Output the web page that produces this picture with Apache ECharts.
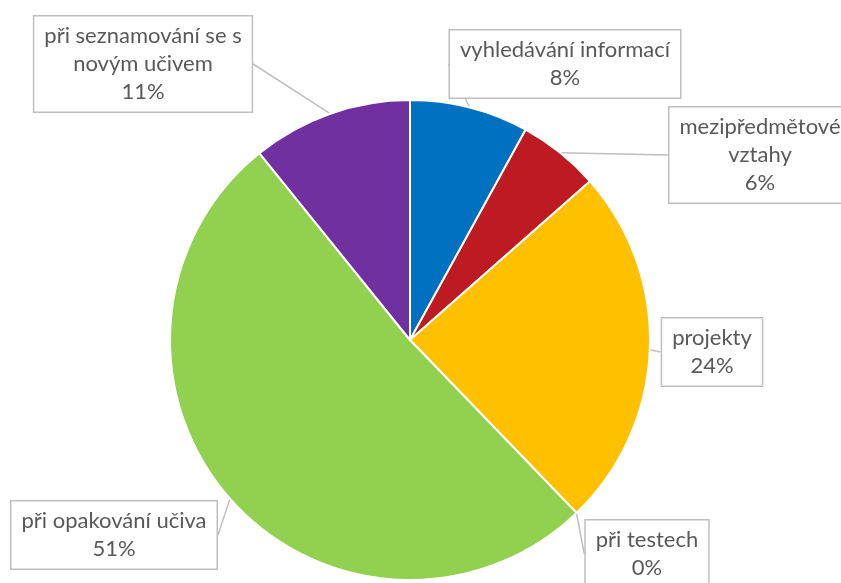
<!DOCTYPE html>
<html>
<head>
<meta charset="utf-8">
<script src="https://cdn.jsdelivr.net/npm/echarts@6/dist/echarts.min.js"></script>
<style>html,body{margin:0;padding:0;background:#fff}#c{width:841px;height:583px}</style>
</head>
<body>
<div id="c"></div>
<script>
var categories = ['vyhledávání informací', 'mezipředmětové vztahy', 'projekty', 'při testech', 'při opakování učiva', 'při seznamování se s novým učivem'];
var labelTexts = ['vyhledávání informací', 'mezipředmětové\nvztahy', 'projekty', 'při testech', 'při opakování učiva', 'při seznamování se s\nnovým učivem'];
var values = [8.0, 5.5, 24.3, 0, 51.4, 10.8];
var colors = ['#0070C0', '#BE1A22', '#FFC000', '#FFFFFF', '#92D050', '#7030A0'];

// label box centres (layout)
var labelPos = [[565, 64], [760, 155], [712, 352], [647, 554], [114, 535], [143, 64]];

var chart = echarts.init(document.getElementById('c'), null, {renderer: 'canvas'});
chart.setOption({
  animation: false,
  series: [{
    type: 'pie',
    center: [410, 340],
    radius: [0, 240],
    startAngle: 90,
    clockwise: true,
    avoidLabelOverlap: false,
    percentPrecision: 0,
    data: categories.map(function (c, i) {
      return {name: c, value: values[i], itemStyle: {color: colors[i]}};
    }),
    itemStyle: {borderColor: '#fff', borderWidth: 2},
    label: {
      show: true,
      position: 'outside',
      formatter: function (p) { return labelTexts[p.dataIndex] + '\n' + Math.round(p.percent) + '%'; },
      fontFamily: 'Lato',
      fontSize: 22,
      lineHeight: 28,
      color: '#595959',
      align: 'center',
      backgroundColor: '#fff',
      borderColor: '#BFBFBF',
      borderWidth: 1.5,
      padding: [6, 10, 5, 10]
    },
    labelLine: {show: true, length: 10, length2: 0, lineStyle: {color: '#BFBFBF', width: 1.5}},
    labelLayout: function (params) {
      var p = labelPos[params.dataIndex];
      return {x: p[0], y: p[1], align: 'center', verticalAlign: 'middle'};
    }
  }]
});
</script>
</body>
</html>
